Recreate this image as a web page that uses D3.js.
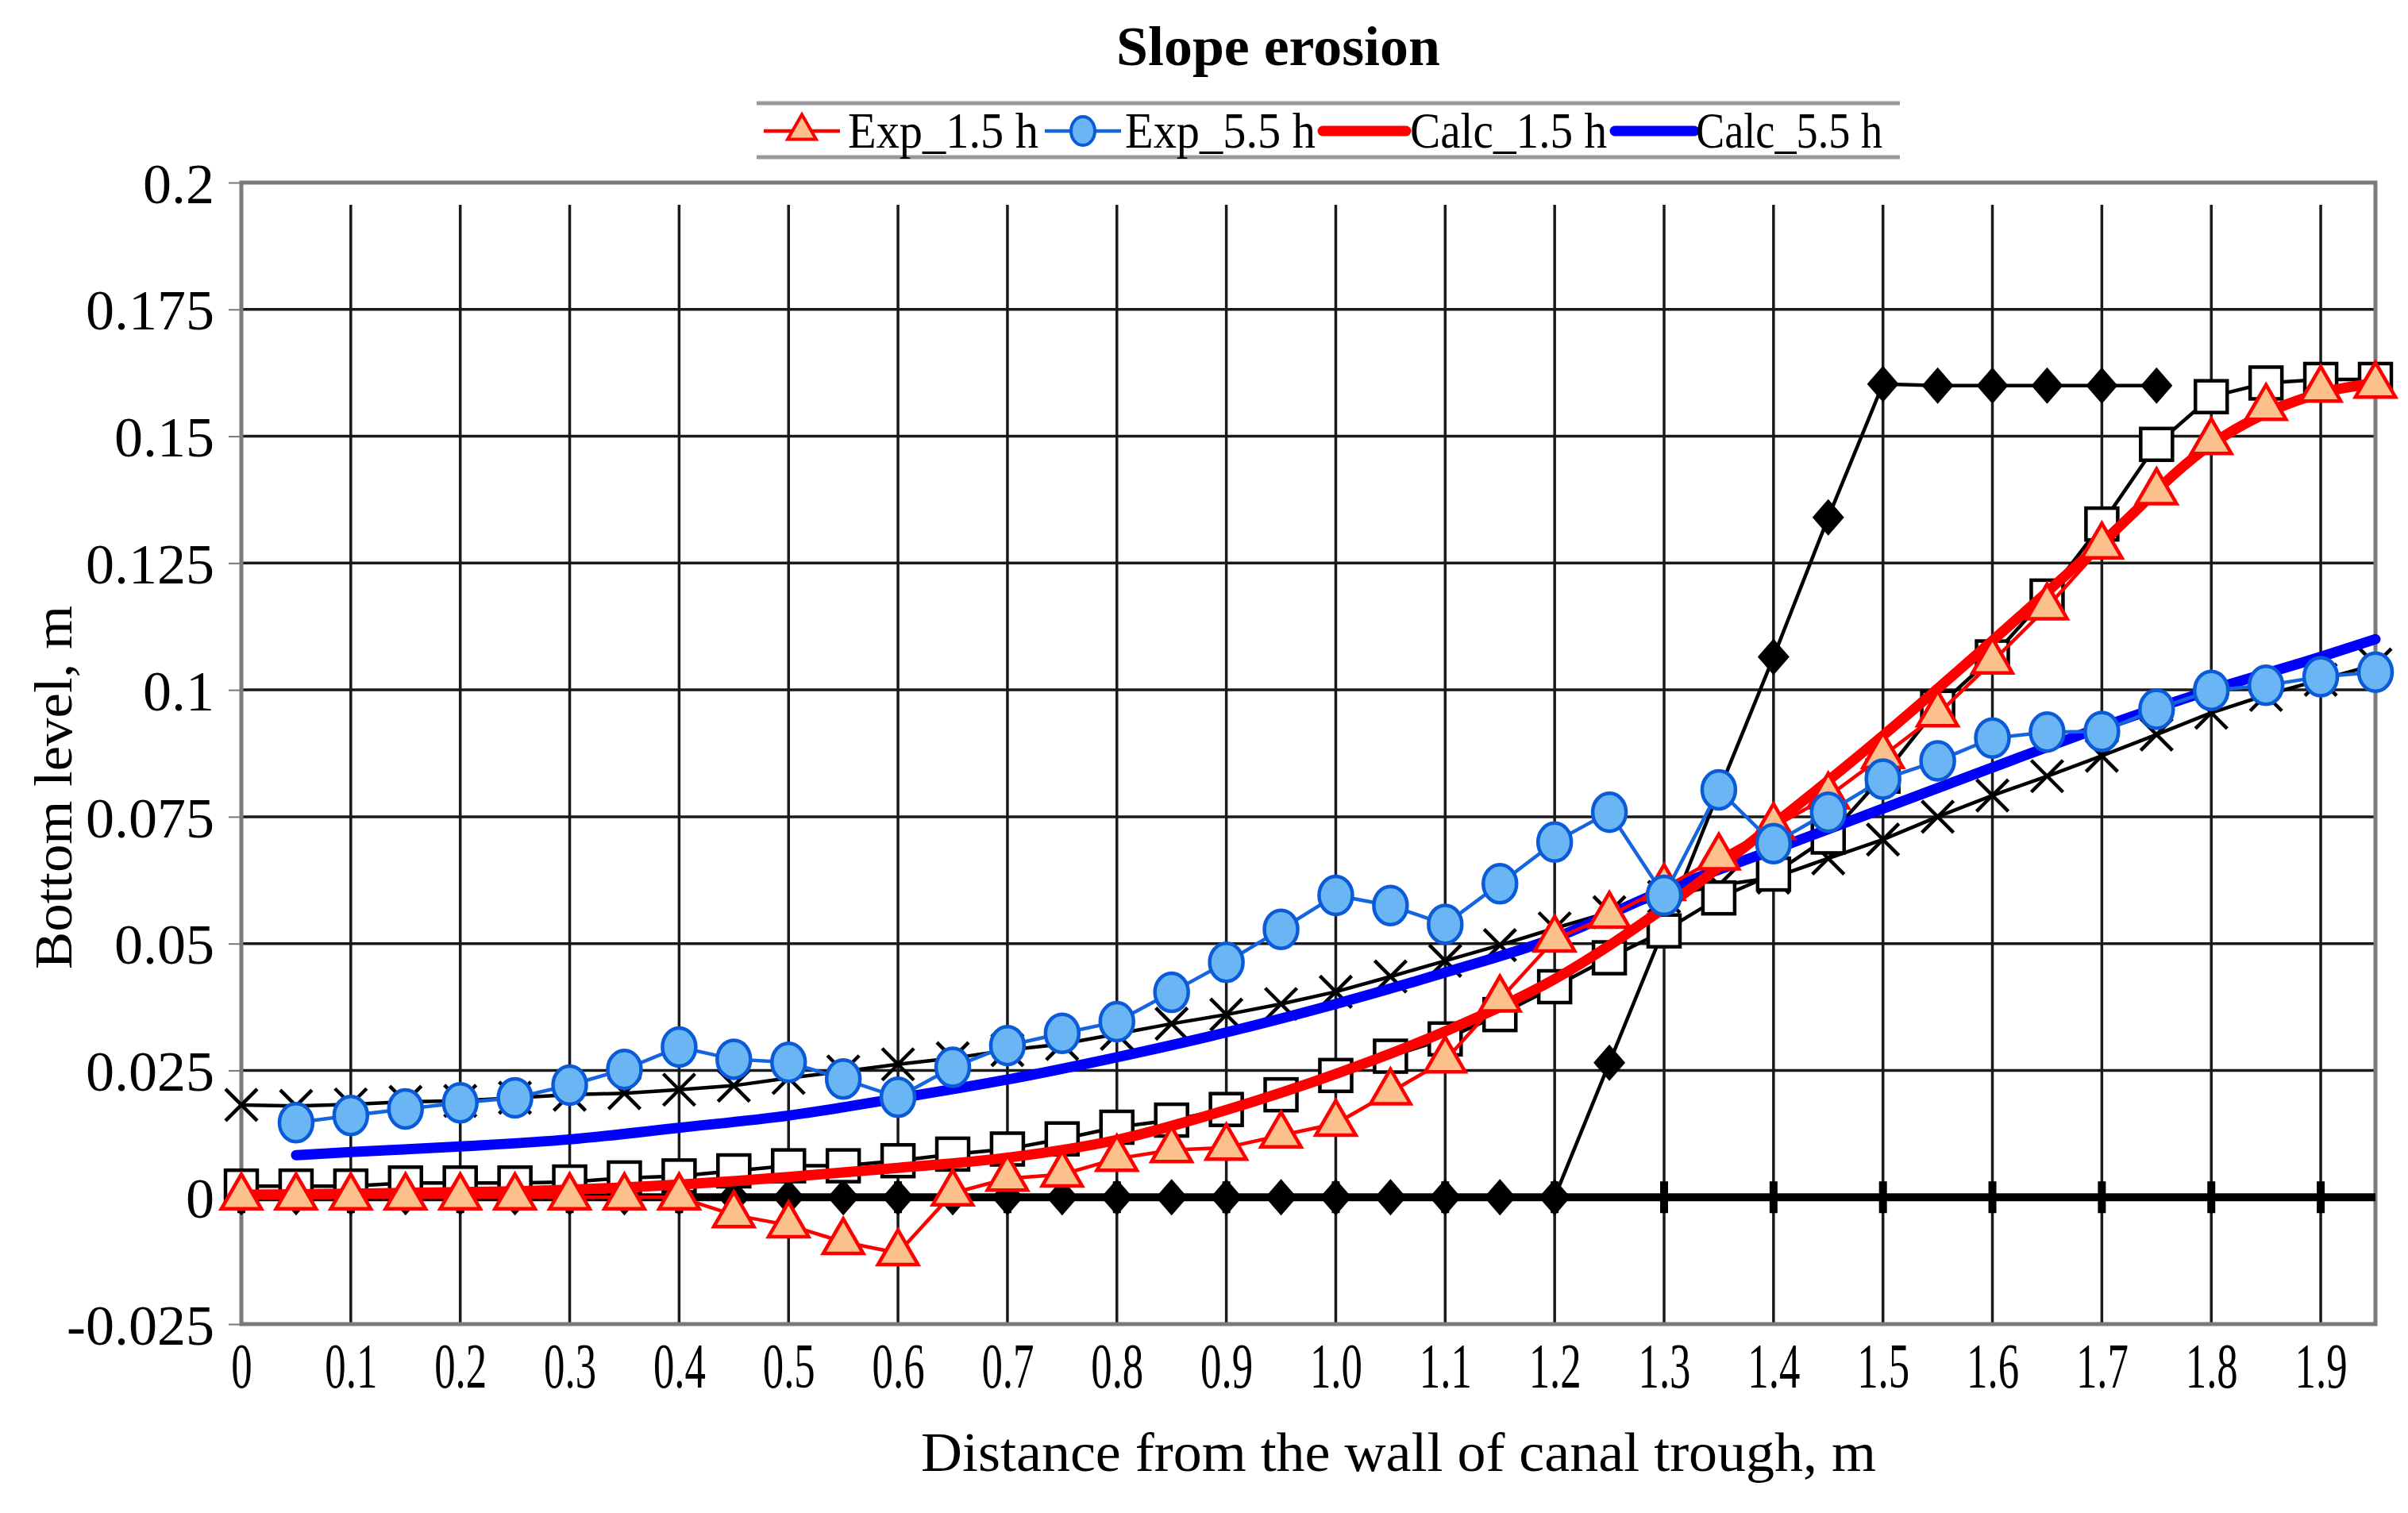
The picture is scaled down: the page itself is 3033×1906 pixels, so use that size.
<!DOCTYPE html>
<html>
<head>
<meta charset="utf-8">
<title>Slope erosion</title>
<script src="https://cdn.jsdelivr.net/npm/d3@7"></script>
<style>
  body { margin: 0; background: #fff; }
  svg { display: block; }
  text { font-family: "Liberation Serif", "Times New Roman", serif; fill: #000; }
</style>
</head>
<body>
<svg id="chart" width="3033" height="1906"></svg>
<script>
// measurement stations, m
const xPts = [0, 0.05, 0.1, 0.15, 0.2, 0.25, 0.3, 0.35, 0.4, 0.45, 0.5, 0.55, 0.6, 0.65, 0.7, 0.75,
  0.8, 0.85, 0.9, 0.95, 1.0, 1.05, 1.1, 1.15, 1.2, 1.25, 1.3, 1.35, 1.4, 1.45, 1.5, 1.55,
  1.6, 1.65, 1.7, 1.75, 1.8, 1.85, 1.9, 1.95];

// Exp_1.5 h (x = 0 .. 1.95)
const exp15 = [0, 0, 0, 0, 0, 0, 0, 0, 0, -0.0035, -0.0055, -0.0088, -0.011, 0.0008, 0.0037, 0.0045,
  0.0076, 0.0093, 0.0098, 0.0122, 0.0145, 0.0207, 0.027, 0.039, 0.0508, 0.0555, 0.061, 0.067,
  0.073, 0.079, 0.087, 0.0952, 0.1056, 0.1163, 0.1283, 0.139, 0.1489, 0.1556, 0.1592, 0.16];

// Exp_5.5 h (x = 0.05 .. 1.95)
const exp55 = [0.0147, 0.0161, 0.0174, 0.0186, 0.0196, 0.0221, 0.0252, 0.0296, 0.0272, 0.0266,
  0.0233, 0.0197, 0.0256, 0.0299, 0.0323, 0.0346, 0.0404, 0.0463, 0.0528, 0.0595, 0.0575,
  0.0538, 0.0618, 0.07, 0.0759, 0.0595, 0.0803, 0.0697, 0.0759, 0.0824, 0.086, 0.0905,
  0.0917, 0.0918, 0.0962, 0.0999, 0.1009, 0.1026, 0.1035];

// calculated profiles
const calcX15 = [0, 0.1, 0.2, 0.3, 0.4, 0.5, 0.6, 0.7, 0.8, 0.9, 1.0, 1.1, 1.2, 1.3, 1.4, 1.5, 1.6, 1.7, 1.8, 1.9, 1.95];
const calc15 = [0.0005, 0.0007, 0.001, 0.0015, 0.0025, 0.004, 0.0058, 0.0078, 0.0113, 0.0172, 0.0243,
  0.0327, 0.043, 0.057, 0.0735, 0.091, 0.1097, 0.129, 0.1484, 0.1585, 0.1605];
const calcX55 = [0.05, 0.1, 0.2, 0.3, 0.4, 0.5, 0.6, 0.7, 0.8, 0.9, 1.0, 1.1, 1.2, 1.3, 1.4, 1.5, 1.6, 1.7, 1.8, 1.9, 1.95];
const calc55 = [0.0083, 0.0089, 0.01, 0.0114, 0.0137, 0.0161, 0.0195, 0.0232, 0.0276, 0.0325, 0.0381,
  0.0443, 0.0511, 0.0605, 0.0685, 0.0766, 0.0847, 0.0927, 0.1, 0.1065, 0.11];

// black (unlabelled) profiles of the original figure
const initProfile = [0, 0, 0, 0, 0, 0, 0, 0, 0, 0, 0, 0, 0, 0, 0, 0, 0, 0, 0, 0, 0, 0, 0, 0, 0,
  0.0265, 0.053, 0.08, 0.1065, 0.134, 0.1603, 0.16, 0.16, 0.16, 0.16, 0.16];
const squareProfile = [0.0022, 0.0022, 0.0022, 0.0028, 0.0028, 0.0028, 0.003, 0.0038, 0.0042, 0.0052,
  0.0062, 0.0062, 0.0072, 0.0085, 0.0095, 0.0115, 0.0138, 0.0152, 0.0173, 0.0202, 0.024, 0.0278,
  0.0312, 0.036, 0.0415, 0.0472, 0.0525, 0.059, 0.0637, 0.071, 0.083, 0.0966, 0.1065, 0.1185,
  0.1327, 0.1484, 0.1578, 0.1605, 0.1612, 0.1612];
const crossProfile = [0.0182, 0.018, 0.0183, 0.0188, 0.019, 0.0196, 0.0202, 0.0205, 0.0212, 0.022,
  0.0235, 0.0248, 0.0262, 0.0274, 0.029, 0.0302, 0.0322, 0.0342, 0.036, 0.0381, 0.0405, 0.0435,
  0.0466, 0.0497, 0.053, 0.0562, 0.0592, 0.0615, 0.063, 0.0668, 0.0705, 0.075, 0.0792, 0.083,
  0.087, 0.0912, 0.0955, 0.099, 0.102, 0.105];
const baseX = [0, 0.1, 0.2, 0.3, 0.4, 0.5, 0.6, 0.7, 0.8, 0.9, 1.0, 1.1, 1.2, 1.3, 1.4, 1.5, 1.6, 1.7, 1.8, 1.9];

// axes
const xTicks = [0, 0.1, 0.2, 0.3, 0.4, 0.5, 0.6, 0.7, 0.8, 0.9, 1.0, 1.1, 1.2, 1.3, 1.4, 1.5, 1.6, 1.7, 1.8, 1.9];
const xTickLabels = ["0", "0.1", "0.2", "0.3", "0.4", "0.5", "0.6", "0.7", "0.8", "0.9", "1.0",
  "1.1", "1.2", "1.3", "1.4", "1.5", "1.6", "1.7", "1.8", "1.9"];
const yTicks = [-0.025, 0, 0.025, 0.05, 0.075, 0.1, 0.125, 0.15, 0.175, 0.2];
const yTickLabels = ["-0.025", "0", "0.025", "0.05", "0.075", "0.1", "0.125", "0.15", "0.175", "0.2"];

const legendNames = ["Exp_1.5 h", "Exp_5.5 h", "Calc_1.5 h", "Calc_5.5 h"];

const svg = d3.select("#chart");
const L = 304, R = 2992, T = 230, B = 1668;

const x = d3.scaleLinear().domain([0, 1.95]).range([L, R]);
const y = d3.scaleLinear().domain([-0.025, 0.2]).range([B, T]);

svg.append("rect").attr("width", 3033).attr("height", 1906).attr("fill", "#fff");

// grid
const grid = svg.append("g");
grid.selectAll("line.h")
  .data(yTicks.filter(v => v > -0.025 && v < 0.2))
  .join("line")
  .attr("x1", L).attr("x2", R)
  .attr("y1", d => y(d)).attr("y2", d => y(d))
  .attr("stroke", "#1a1a1a").attr("stroke-width", 3.5);
grid.selectAll("line.v")
  .data(xTicks.filter(v => v > 0))
  .join("line")
  .attr("x1", d => x(d)).attr("x2", d => x(d))
  .attr("y1", T + 28).attr("y2", B)
  .attr("stroke", "#1a1a1a").attr("stroke-width", 3.5);

// axes labels
const yAxis = svg.append("g")
  .attr("transform", `translate(${L},0)`)
  .call(d3.axisLeft(y).tickValues(yTicks).tickSize(16)
    .tickFormat((d, i) => yTickLabels[i]));
yAxis.select(".domain").remove();
yAxis.selectAll(".tick line").attr("stroke", "#777").attr("stroke-width", 2);
yAxis.selectAll(".tick text")
  .attr("x", -34)
  .attr("dy", "0.35em")
  .style("font-size", "72px")
  .style("font-family", "'Liberation Serif', serif");

const xAxis = svg.append("g")
  .attr("transform", `translate(0,${B})`)
  .call(d3.axisBottom(x).tickValues(xTicks).tickSize(0)
    .tickFormat((d, i) => xTickLabels[i]));
xAxis.select(".domain").remove();
xAxis.selectAll(".tick text")
  .attr("y", 80)
  .attr("dy", null)
  .attr("transform", "scale(0.66,1)")
  .style("font-size", "80px")
  .style("font-family", "'Liberation Serif', serif");

// plot frame
svg.append("rect")
  .attr("x", L).attr("y", T)
  .attr("width", R - L).attr("height", B - T)
  .attr("fill", "none").attr("stroke", "#7a7a7a").attr("stroke-width", 5);

const line = d3.line().x(d => x(d[0])).y(d => y(d[1]));
const smooth = d3.line().x(d => x(d[0])).y(d => y(d[1])).curve(d3.curveMonotoneX);
const zipPts = (xs, ys) => ys.map((v, i) => [xs[i], v]);

const plot = svg.append("g");

// thick bed line at zero with bar markers
const base = zipPts([0, 1.95], [0, 0]);
plot.append("path").attr("d", line(base))
  .attr("fill", "none").attr("stroke", "#000").attr("stroke-width", 10);
plot.selectAll("rect.bar")
  .data(baseX)
  .join("rect")
  .attr("x", d => x(d) - 5).attr("y", y(0) - 20)
  .attr("width", 10).attr("height", 40)
  .attr("fill", "#000");

// crosses
const crossPts = zipPts(xPts, crossProfile);
plot.append("path").attr("d", line(crossPts))
  .attr("fill", "none").attr("stroke", "#000").attr("stroke-width", 4.5);
plot.selectAll("path.cross")
  .data(crossPts)
  .join("path")
  .attr("transform", d => `translate(${x(d[0])},${y(d[1])})`)
  .attr("d", "M-20,-20L20,20M-20,20L20,-20")
  .attr("stroke", "#000").attr("stroke-width", 4.5).attr("fill", "none");

// filled diamonds
const diaPts = zipPts(xPts, initProfile);
plot.append("path").attr("d", line(diaPts))
  .attr("fill", "none").attr("stroke", "#000").attr("stroke-width", 4.5);
plot.selectAll("path.dia")
  .data(diaPts)
  .join("path")
  .attr("transform", d => `translate(${x(d[0])},${y(d[1])})`)
  .attr("d", "M0,-23L20,0L0,23L-20,0Z")
  .attr("fill", "#000");

// open squares
const sqPts = zipPts(xPts, squareProfile);
plot.append("path").attr("d", line(sqPts))
  .attr("fill", "none").attr("stroke", "#000").attr("stroke-width", 4.5);
plot.selectAll("rect.sq")
  .data(sqPts)
  .join("rect")
  .attr("x", d => x(d[0]) - 20).attr("y", d => y(d[1]) - 20)
  .attr("width", 40).attr("height", 40)
  .attr("fill", "#fff").attr("stroke", "#000").attr("stroke-width", 4.5);

// calculated profiles
plot.append("path").attr("d", smooth(zipPts(calcX55, calc55)))
  .attr("fill", "none").attr("stroke", "#0000ff").attr("stroke-width", 13).attr("stroke-linecap", "round");
plot.append("path").attr("d", smooth(zipPts(calcX15, calc15)))
  .attr("fill", "none").attr("stroke", "#ff0000").attr("stroke-width", 13).attr("stroke-linecap", "round");

// Exp_1.5 h
const triPts = zipPts(xPts, exp15);
const tri = d3.symbol(d3.symbolTriangle).size(1100);
plot.append("path").attr("d", line(triPts))
  .attr("fill", "none").attr("stroke", "#ff0000").attr("stroke-width", 4.5);
plot.selectAll("path.tri")
  .data(triPts)
  .join("path")
  .attr("transform", d => `translate(${x(d[0])},${y(d[1])})`)
  .attr("d", tri)
  .attr("fill", "#fcc08c").attr("stroke", "#ff0000").attr("stroke-width", 4.5)
  .attr("stroke-linejoin", "miter");

// Exp_5.5 h
const cirPts = zipPts(xPts.slice(1), exp55);
plot.append("path").attr("d", line(cirPts))
  .attr("fill", "none").attr("stroke", "#1565e0").attr("stroke-width", 4.5);
plot.selectAll("ellipse.cir")
  .data(cirPts)
  .join("ellipse")
  .attr("cx", d => x(d[0])).attr("cy", d => y(d[1]))
  .attr("rx", 21).attr("ry", 24)
  .attr("fill", "#6ab6f4").attr("stroke", "#0b5bd8").attr("stroke-width", 4.5);

// title
svg.append("text")
  .attr("x", 1610).attr("y", 82)
  .attr("text-anchor", "middle")
  .attr("textLength", 408).attr("lengthAdjust", "spacingAndGlyphs")
  .style("font-size", "70px").style("font-weight", "bold")
  .text("Slope erosion");

// axis titles
svg.append("text")
  .attr("x", 1160).attr("y", 1853)
  .attr("textLength", 1203).attr("lengthAdjust", "spacingAndGlyphs")
  .style("font-size", "70px")
  .text("Distance from the wall of canal trough, m");
svg.append("text")
  .attr("transform", "translate(90,992) rotate(-90)")
  .attr("text-anchor", "middle")
  .attr("textLength", 458).attr("lengthAdjust", "spacingAndGlyphs")
  .style("font-size", "68px")
  .text("Bottom level, m");

// legend
const lg = svg.append("g");
lg.selectAll("line.rule")
  .data([130, 198])
  .join("line")
  .attr("x1", 953).attr("x2", 2393)
  .attr("y1", d => d).attr("y2", d => d)
  .attr("stroke", "#999").attr("stroke-width", 5);

const legendItems = [
  { name: legendNames[0], x0: 962, x1: 1058, tx: 1068, tw: 240, color: "#ff0000", w: 4.5, mark: "tri" },
  { name: legendNames[1], x0: 1316, x1: 1412, tx: 1417, tw: 240, color: "#1565e0", w: 4.5, mark: "cir" },
  { name: legendNames[2], x0: 1666, x1: 1771, tx: 1776, tw: 248, color: "#ff0000", w: 13, mark: null },
  { name: legendNames[3], x0: 2034, x1: 2134, tx: 2136, tw: 235, color: "#0000ff", w: 13, mark: null }
];
const ly = 165;
const items = lg.selectAll("g.item").data(legendItems).join("g");
items.append("line")
  .attr("x1", d => d.x0).attr("x2", d => d.x1)
  .attr("y1", ly).attr("y2", ly)
  .attr("stroke", d => d.color).attr("stroke-width", d => d.w)
  .attr("stroke-linecap", d => d.w > 5 ? "round" : "butt");
items.filter(d => d.mark === "tri").append("path")
  .attr("transform", d => `translate(${(d.x0 + d.x1) / 2},${ly})`)
  .attr("d", d3.symbol(d3.symbolTriangle).size(560))
  .attr("fill", "#fcc08c").attr("stroke", "#ff0000").attr("stroke-width", 4);
items.filter(d => d.mark === "cir").append("ellipse")
  .attr("cx", d => (d.x0 + d.x1) / 2).attr("cy", ly)
  .attr("rx", 15).attr("ry", 18)
  .attr("fill", "#6ab6f4").attr("stroke", "#0b5bd8").attr("stroke-width", 4);
items.append("text")
  .attr("x", d => d.tx).attr("y", 186)
  .attr("textLength", d => d.tw).attr("lengthAdjust", "spacingAndGlyphs")
  .style("font-size", "64px")
  .text(d => d.name);
</script>
</body>
</html>
